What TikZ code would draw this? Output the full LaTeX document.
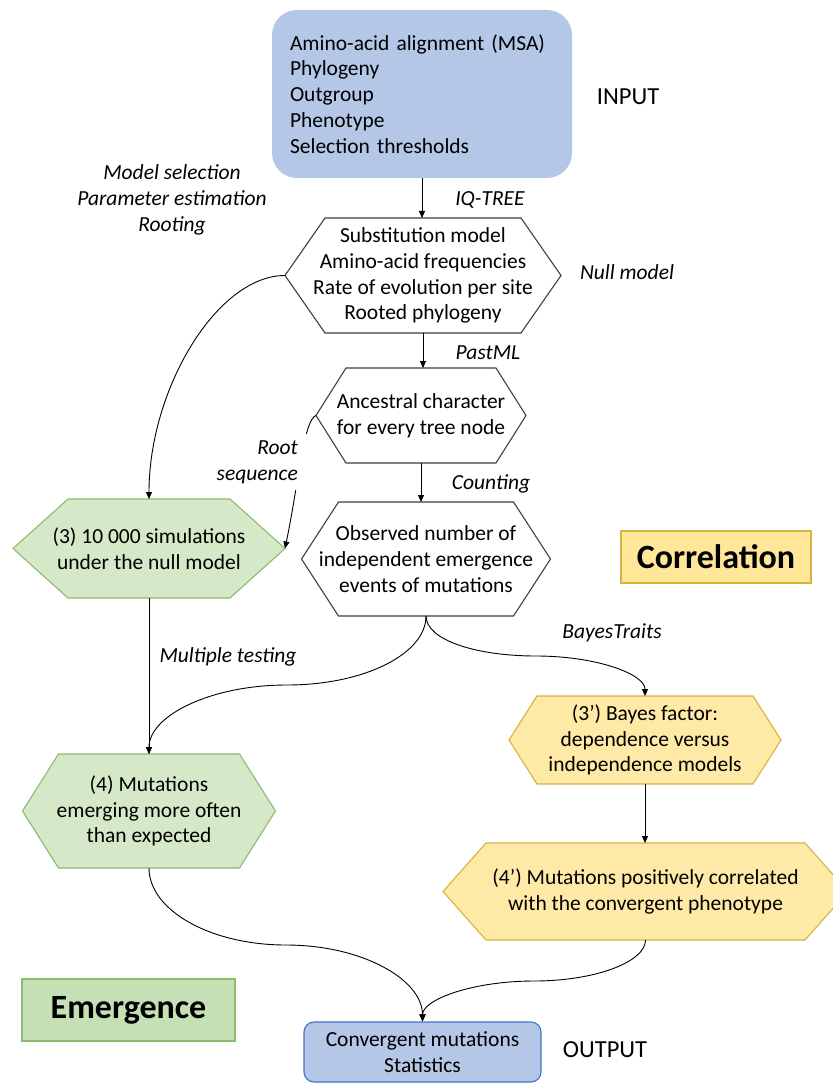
\documentclass[tikz,border=0pt]{standalone}
\usepackage{fontspec}
\setmainfont{Carlito}
\usetikzlibrary{calc,backgrounds,arrows.meta}
\definecolor{inblue}{HTML}{B4C7E7}
\definecolor{outline}{HTML}{4472C4}
\definecolor{hexgray}{HTML}{404040}
\definecolor{gfill}{HTML}{D5E8C8}
\definecolor{gline}{HTML}{8DBA6C}
\definecolor{gbox}{HTML}{C5E0B4}
\definecolor{yfill}{HTML}{FFE9A6}
\definecolor{yline}{HTML}{D6B340}
\definecolor{ybox}{HTML}{FFE699}
\newcommand{\hexshape}[3]{%
  \path[#1] ($(#2.north west)+(#3,0)$) -- ($(#2.north east)+(-#3,0)$) -- (#2.east)
    -- ($(#2.south east)+(-#3,0)$) -- ($(#2.south west)+(#3,0)$) -- (#2.west) -- cycle;}
\tikzset{
  txt/.style={font=\fontsize{21.5pt}{25.8pt}\selectfont},
  lbl/.style={font=\fontsize{21.5pt}{25.8pt}\selectfont\itshape, align=center, inner sep=0pt},
  big/.style={font=\fontsize{24.5pt}{29pt}\selectfont, inner sep=0pt},
  hexnode/.style={txt, align=center, inner sep=0pt, outer sep=0pt, minimum width=#1},
  whitehex/.style={fill=white, draw=hexgray, line width=1.1pt},
  greenhex/.style={fill=gfill, draw=gline, line width=1.1pt},
  yellowhex/.style={fill=yfill, draw=yline, line width=1.1pt},
  arr/.style={draw=black, line width=0.9pt, -{Triangle[length=7pt,width=6pt]}},
}
\begin{document}
\begin{tikzpicture}[x=1pt,y=-1pt]
\useasboundingbox (0,0) rectangle (832,1083);
\begin{scope}[on background layer]
  \fill[white] (0,0) rectangle (832,1083);
\end{scope}

% input box
\node[txt, fill=inblue, rounded corners=25pt, minimum width=300pt, minimum height=168pt,
      text width=264pt, align=left, inner sep=0pt] (input) at (422,94)
  {Amino-acid alignment (MSA)\\Phylogeny\\Outgroup\\Phenotype\\Selection thresholds};
\node[big] (inlabel) at (628,97) {INPUT};

% hexagons
\node[hexnode=276pt, minimum height=115pt] (nm) at (423,275.5)
  {Substitution model\\Amino-acid frequencies\\Rate of evolution per site\\Rooted phylogeny};
\node[hexnode=210pt, minimum height=95pt] (anc) at (421,415.5)
  {Ancestral character\\for every tree node};
\node[hexnode=272pt, minimum height=99pt] (sim) at (149,548.5)
  {(3) 10 000 simulations\\under the null model};
\node[hexnode=249pt, minimum height=114pt] (obs) at (426,559)
  {Observed number of\\independent emergence\\events of mutations};
\node[hexnode=253pt, minimum height=114pt] (emr) at (149,811)
  {(4) Mutations\\emerging more often\\than expected};
\node[hexnode=272pt, minimum height=88pt] (bf) at (645,740)
  {(3’) Bayes factor:\\dependence versus\\independence models};
\node[hexnode=405pt, minimum height=97pt] (pc) at (645.5,891.5)
  {(4’) Mutations positively correlated\\with the convergent phenotype};

\begin{scope}[on background layer]
  \hexshape{whitehex}{nm}{40}
  \hexshape{whitehex}{anc}{30}
  \hexshape{greenhex}{sim}{55}
  \hexshape{whitehex}{obs}{37}
  \hexshape{greenhex}{emr}{36}
  \hexshape{yellowhex}{bf}{28}
  \hexshape{yellowhex}{pc}{43}
\end{scope}

% output
\node[txt, align=center, fill=inblue, draw=outline, line width=1.1pt, rounded corners=10pt,
      minimum width=237pt, minimum height=60pt, inner sep=0pt] (out) at (422.5,1052)
  {Convergent mutations\\Statistics};
\node[big] (outlabel) at (605,1050) {OUTPUT};

% category boxes
\node[font=\fontsize{34pt}{40pt}\selectfont\bfseries, fill=ybox, draw=yline, line width=1.1pt,
      minimum width=190pt, minimum height=52pt, inner sep=0pt] (corr) at (716,557) {Correlation};
\node[font=\fontsize{34pt}{40pt}\selectfont\bfseries, fill=gbox, draw=gline, line width=1.1pt,
      minimum width=213pt, minimum height=62pt, inner sep=0pt] (emg) at (128.5,1010) {Emergence};

% connectors
\draw[arr] (input.south) -- (input.south |- nm.north);
\draw[arr] (nm.south) -- (nm.south |- anc.north);
\draw[arr] (anc.south) -- (anc.south |- obs.north);
\draw[arr] (nm.west) .. controls +(-68,0) and +(0,-110) .. (sim.north);
\draw[arr] (anc.west) .. controls +(-12,4) and +(14,-68) .. (sim.east);
\draw[arr] (sim.south) -- (emr.north);
\draw[arr] (obs.south) .. controls +(0,38) and +(77,0) .. (287,685)
  .. controls +(-77,0) and +(0,-38) .. (emr.north);
\draw[arr] (obs.south) .. controls +(0,24) and +(-60,0) .. (536,656)
  .. controls +(60,0) and +(0,-22) .. (bf.north);
\draw[arr] (bf.south) -- (bf.south |- pc.north);
\draw[arr] (emr.south) .. controls +(0,42) and +(-76,0) .. (286,945)
  .. controls +(76,0) and +(0,-42) .. (out.north);
\draw[arr] (pc.south) .. controls +(0,22) and +(61,0) .. (534,981)
  .. controls +(-61,0) and +(0,-22) .. (out.north);

% labels
\node[lbl] (iq) at (490,200) {IQ-TREE};
\node[lbl] (ms) at (172,200) {Model selection\\Parameter estimation\\Rooting};
\node[lbl] (null) at (627,272) {Null model};
\node[lbl] (past) at (488,353) {PastML};
\node[lbl, align=right, fill=white, inner xsep=10pt, inner ysep=6pt, anchor=east] (root) at (308,462) {Root\\sequence};
\node[lbl] (cnt) at (491,484) {Counting};
\node[lbl] (mt) at (228,657) {Multiple testing};
\node[lbl] (bt) at (612,633) {BayesTraits};
\end{tikzpicture}
\end{document}
